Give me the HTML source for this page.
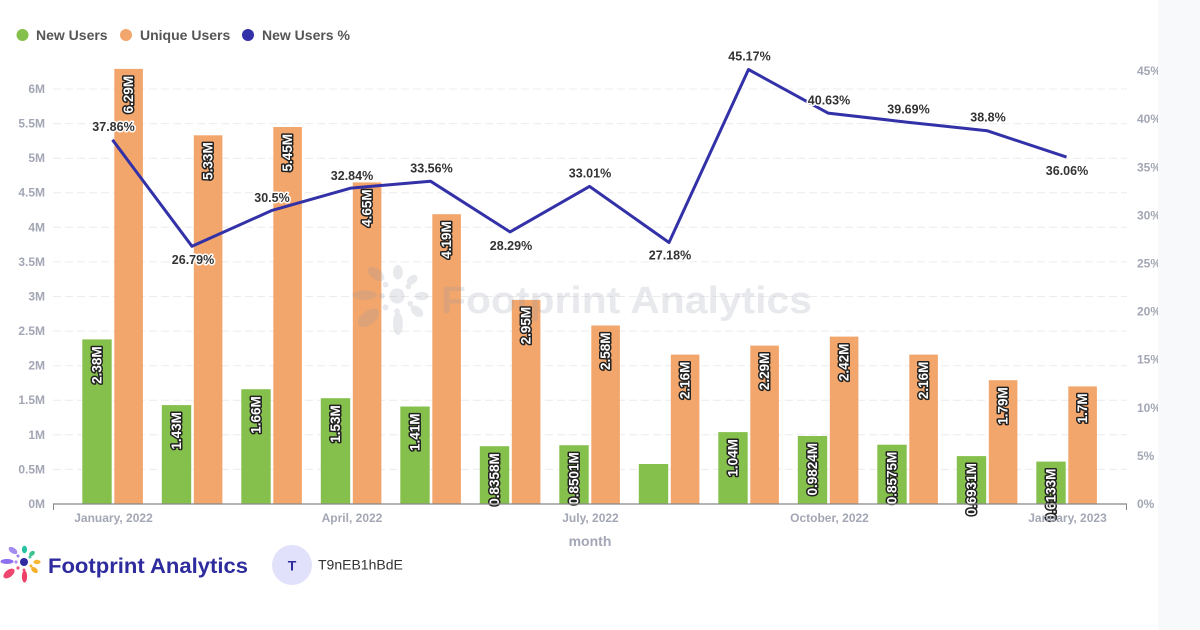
<!DOCTYPE html>
<html><head><meta charset="utf-8"><style>
html,body{margin:0;padding:0;background:#fff;width:1200px;height:630px;overflow:hidden}
svg{display:block;font-family:"Liberation Sans",Arial,sans-serif}
.yl{font-size:12px;font-weight:bold;fill:#a3a6b4}
.bl{font-size:13.5px;font-weight:bold;fill:#fff;stroke:#222;stroke-width:3;paint-order:stroke;stroke-linejoin:round}
.pl{font-size:12.5px;font-weight:bold;fill:#333;stroke:#fff;stroke-width:3;paint-order:stroke;stroke-linejoin:round}
.lg{font-size:14px;font-weight:bold;fill:#555}
</style></head><body>
<svg width="1200" height="630" viewBox="0 0 1200 630" xmlns="http://www.w3.org/2000/svg">
<rect x="0" y="0" width="1200" height="630" fill="#fff"/>
<!-- legend -->
<circle cx="22.5" cy="35" r="6" fill="#86c04c"/>
<text class="lg" x="36" y="35" dominant-baseline="central">New Users</text>
<circle cx="126" cy="35" r="6" fill="#f2a66c"/>
<text class="lg" x="140" y="35" dominant-baseline="central">Unique Users</text>
<circle cx="248" cy="35" r="6" fill="#3331a8"/>
<text class="lg" x="262" y="35" dominant-baseline="central">New Users %</text>

<!-- gridlines -->
<g stroke="#ececec" stroke-width="1" stroke-dasharray="8,4">
<line x1="53" x2="1127" y1="469.4" y2="469.4"/>
<line x1="53" x2="1127" y1="434.8" y2="434.8"/>
<line x1="53" x2="1127" y1="400.2" y2="400.2"/>
<line x1="53" x2="1127" y1="365.7" y2="365.7"/>
<line x1="53" x2="1127" y1="331.1" y2="331.1"/>
<line x1="53" x2="1127" y1="296.5" y2="296.5"/>
<line x1="53" x2="1127" y1="261.9" y2="261.9"/>
<line x1="53" x2="1127" y1="227.3" y2="227.3"/>
<line x1="53" x2="1127" y1="192.7" y2="192.7"/>
<line x1="53" x2="1127" y1="158.2" y2="158.2"/>
<line x1="53" x2="1127" y1="123.6" y2="123.6"/>
<line x1="53" x2="1127" y1="89.0" y2="89.0"/>
</g>

<!-- left y labels -->
<g class="yl" text-anchor="end" dominant-baseline="central">
<text x="45" y="504">0M</text>
<text x="45" y="469.4">0.5M</text>
<text x="45" y="434.8">1M</text>
<text x="45" y="400.2">1.5M</text>
<text x="45" y="365.7">2M</text>
<text x="45" y="331.1">2.5M</text>
<text x="45" y="296.5">3M</text>
<text x="45" y="261.9">3.5M</text>
<text x="45" y="227.3">4M</text>
<text x="45" y="192.7">4.5M</text>
<text x="45" y="158.2">5M</text>
<text x="45" y="123.6">5.5M</text>
<text x="45" y="89">6M</text>
</g>
<!-- right y labels -->
<g class="yl" dominant-baseline="central">
<text x="1137" y="504">0%</text>
<text x="1137" y="455.9">5%</text>
<text x="1137" y="407.8">10%</text>
<text x="1137" y="359.7">15%</text>
<text x="1137" y="311.6">20%</text>
<text x="1137" y="263.5">25%</text>
<text x="1137" y="215.4">30%</text>
<text x="1137" y="167.3">35%</text>
<text x="1137" y="119.2">40%</text>
<text x="1137" y="71.1">45%</text>
</g>

<!-- bars green -->
<g fill="#86c04c">
<rect x="82.3" y="339.4" width="29.4" height="164.6"/>
<rect x="161.8" y="405.1" width="29.4" height="98.9"/>
<rect x="241.3" y="389.2" width="29.4" height="114.8"/>
<rect x="320.8" y="398.2" width="29.4" height="105.8"/>
<rect x="400.3" y="406.5" width="29.4" height="97.5"/>
<rect x="479.8" y="446.2" width="29.4" height="57.8"/>
<rect x="559.3" y="445.2" width="29.4" height="58.8"/>
<rect x="638.8" y="464.0" width="29.4" height="40.0"/>
<rect x="718.3" y="432.1" width="29.4" height="71.9"/>
<rect x="797.8" y="436.0" width="29.4" height="68.0"/>
<rect x="877.3" y="444.7" width="29.4" height="59.3"/>
<rect x="956.8" y="456.1" width="29.4" height="47.9"/>
<rect x="1036.3" y="461.6" width="29.4" height="42.4"/>
</g>
<!-- bars orange -->
<g fill="#f2a66c">
<rect x="114.3" y="68.9" width="28.6" height="435.1"/>
<rect x="193.8" y="135.3" width="28.6" height="368.7"/>
<rect x="273.3" y="127.0" width="28.6" height="377.0"/>
<rect x="352.8" y="182.4" width="28.6" height="321.6"/>
<rect x="432.3" y="214.2" width="28.6" height="289.8"/>
<rect x="511.8" y="299.9" width="28.6" height="204.1"/>
<rect x="591.3" y="325.5" width="28.6" height="178.5"/>
<rect x="670.8" y="354.6" width="28.6" height="149.4"/>
<rect x="750.3" y="345.6" width="28.6" height="158.4"/>
<rect x="829.8" y="336.6" width="28.6" height="167.4"/>
<rect x="909.3" y="354.6" width="28.6" height="149.4"/>
<rect x="988.8" y="380.2" width="28.6" height="123.8"/>
<rect x="1068.3" y="386.4" width="28.6" height="117.6"/>
</g>

<!-- watermark -->
<g opacity="0.2" fill="#8f96a3">
 <g transform="translate(397,296) scale(1.9) translate(-24,-562)">
  <circle cx="24" cy="562" r="4"/>
  <ellipse cx="7" cy="561.5" rx="6.5" ry="2.5"/>
  <ellipse cx="13" cy="550.5" rx="5" ry="2.8" transform="rotate(35 13 550.5)"/>
  <ellipse cx="24.5" cy="549.5" rx="2.6" ry="3.8"/>
  <ellipse cx="32" cy="553.5" rx="3.2" ry="2.2" transform="rotate(-40 32 553.5)"/>
  <ellipse cx="37" cy="562" rx="3.6" ry="2.2"/>
  <ellipse cx="34.5" cy="570" rx="3.8" ry="2.4" transform="rotate(40 34.5 570)"/>
  <ellipse cx="24.5" cy="576.5" rx="2.6" ry="6"/>
  <ellipse cx="9" cy="573.5" rx="6.5" ry="3.6" transform="rotate(-38 9 573.5)"/>
  <circle cx="16" cy="562" r="1.6"/><circle cx="18" cy="556" r="1.5"/><circle cx="30" cy="557" r="1.5"/>
  <circle cx="31" cy="566" r="1.5"/><circle cx="18" cy="568" r="1.6"/><circle cx="24" cy="570" r="1.5"/>
 </g>
 <text x="441" y="313" font-size="38" font-weight="bold" textLength="371" lengthAdjust="spacingAndGlyphs">Footprint Analytics</text>
</g>

<!-- line -->
<polyline fill="none" stroke="#3331a8" stroke-width="3" stroke-linejoin="round" points="112.5,139.8 192,246.3 271.5,210.6 351,188.1 430.5,181.2 510,231.9 589.5,186.4 669,242.5 748.5,69.5 828,113.1 907.5,122.2 987,130.7 1066.5,157.1"/>

<!-- bar labels green -->
<g class="bl" text-anchor="end" dominant-baseline="central">
<text transform="translate(97,346.4) rotate(-90)">2.38M</text>
<text transform="translate(176.5,412.1) rotate(-90)">1.43M</text>
<text transform="translate(256,396.2) rotate(-90)">1.66M</text>
<text transform="translate(335.5,405.2) rotate(-90)">1.53M</text>
<text transform="translate(415,413.5) rotate(-90)">1.41M</text>
<text transform="translate(494.5,453.2) rotate(-90)">0.8358M</text>
<text transform="translate(574,452.2) rotate(-90)">0.8501M</text>
<text transform="translate(733,439.1) rotate(-90)">1.04M</text>
<text transform="translate(812.5,443) rotate(-90)">0.9824M</text>
<text transform="translate(892,451.7) rotate(-90)">0.8575M</text>
<text transform="translate(971.5,463.1) rotate(-90)">0.6931M</text>
<text transform="translate(1051,468.6) rotate(-90)">0.6133M</text>
<!-- orange -->
<text transform="translate(128.6,75.9) rotate(-90)">6.29M</text>
<text transform="translate(208.1,142.3) rotate(-90)">5.33M</text>
<text transform="translate(287.6,134) rotate(-90)">5.45M</text>
<text transform="translate(367.1,189.4) rotate(-90)">4.65M</text>
<text transform="translate(446.6,221.2) rotate(-90)">4.19M</text>
<text transform="translate(526.1,306.9) rotate(-90)">2.95M</text>
<text transform="translate(605.6,332.5) rotate(-90)">2.58M</text>
<text transform="translate(685.1,361.6) rotate(-90)">2.16M</text>
<text transform="translate(764.6,352.6) rotate(-90)">2.29M</text>
<text transform="translate(844.1,343.6) rotate(-90)">2.42M</text>
<text transform="translate(923.6,361.6) rotate(-90)">2.16M</text>
<text transform="translate(1003.1,387.2) rotate(-90)">1.79M</text>
<text transform="translate(1082.6,393.4) rotate(-90)">1.7M</text>
</g>

<!-- pct labels -->
<g class="pl" text-anchor="middle" dominant-baseline="central">
<text x="113.5" y="127">37.86%</text>
<text x="193" y="260">26.79%</text>
<text x="272" y="198">30.5%</text>
<text x="352" y="176">32.84%</text>
<text x="431.5" y="168.5">33.56%</text>
<text x="511" y="246">28.29%</text>
<text x="590" y="173.5">33.01%</text>
<text x="670" y="255.5">27.18%</text>
<text x="749.5" y="56.5">45.17%</text>
<text x="829" y="100.5">40.63%</text>
<text x="908.5" y="109.5">39.69%</text>
<text x="988" y="117.5">38.8%</text>
<text x="1067" y="171">36.06%</text>
</g>

<!-- x axis -->
<line x1="53" x2="1127" y1="504" y2="504" stroke="#888" stroke-width="1.2"/>
<line x1="53.5" x2="53.5" y1="504" y2="510" stroke="#888" stroke-width="1"/>
<line x1="1126.5" x2="1126.5" y1="504" y2="510" stroke="#888" stroke-width="1"/>
<g class="yl" text-anchor="middle" dominant-baseline="central">
<text x="113.5" y="518">January, 2022</text>
<text x="352" y="518">April, 2022</text>
<text x="590.5" y="518">July, 2022</text>
<text x="829.5" y="518">October, 2022</text>
<text x="1067.5" y="518">January, 2023</text>
</g>
<text x="590" y="541" text-anchor="middle" dominant-baseline="central" font-size="14" font-weight="bold" fill="#a3a6b4">month</text>

<!-- right panel -->
<rect x="1158" y="0" width="42" height="630" fill="#f8f9fb"/>

<!-- footer logo -->
<g>
  <circle cx="24" cy="562" r="4" fill="#2f2aa0"/>
  <ellipse cx="7" cy="561.5" rx="6.5" ry="2.5" fill="#8b6ff0"/>
  <ellipse cx="13" cy="550.5" rx="5" ry="2.8" transform="rotate(35 13 550.5)" fill="#a48cf2"/>
  <ellipse cx="24.5" cy="549.5" rx="2.6" ry="3.8" fill="#27c3a0"/>
  <ellipse cx="32" cy="553.5" rx="3.2" ry="2.2" transform="rotate(-40 32 553.5)" fill="#3dc48c"/>
  <ellipse cx="37" cy="562" rx="3.6" ry="2.2" fill="#f9b934"/>
  <ellipse cx="34.5" cy="570" rx="3.8" ry="2.4" transform="rotate(40 34.5 570)" fill="#f6b02a"/>
  <ellipse cx="24.5" cy="576.5" rx="2.6" ry="6" fill="#ee3f68"/>
  <ellipse cx="9" cy="573.5" rx="6.5" ry="3.6" transform="rotate(-38 9 573.5)" fill="#f0466f"/>
  <circle cx="16" cy="562" r="1.6" fill="#b38cf0"/><circle cx="18" cy="556" r="1.5" fill="#9c7fee"/><circle cx="30" cy="557" r="1.5" fill="#46c9a0"/>
  <circle cx="31" cy="566" r="1.5" fill="#f7b52f"/><circle cx="18" cy="568" r="1.6" fill="#f0557a"/><circle cx="24" cy="570" r="1.5" fill="#ef4d73"/>
</g>
<text x="48" y="573" font-size="21" font-weight="bold" fill="#2e2b9e" textLength="200" lengthAdjust="spacingAndGlyphs">Footprint Analytics</text>
<circle cx="292" cy="565" r="20" fill="#e2e1fb"/>
<text x="292" y="565.5" text-anchor="middle" dominant-baseline="central" font-size="14" font-weight="bold" fill="#2e2b9e">T</text>
<text x="318" y="564.5" dominant-baseline="central" font-size="14" fill="#333">T9nEB1hBdE</text>
</svg>
</body></html>
